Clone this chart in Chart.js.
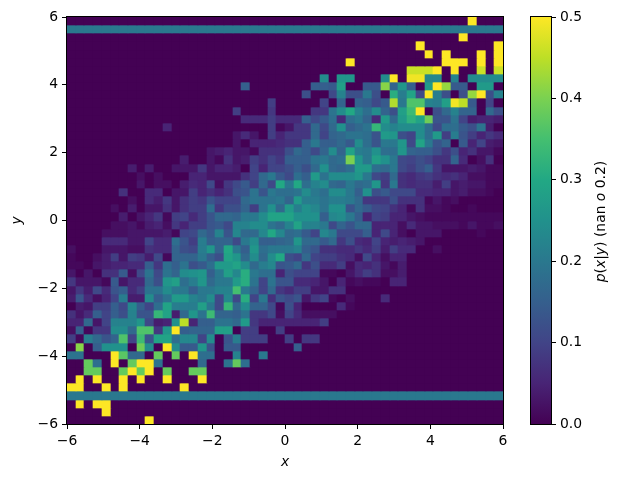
<!DOCTYPE html>
<html>
<head>
<meta charset="utf-8">
<script src="https://cdn.jsdelivr.net/npm/chart.js@4"></script>
<style>
  html, body { margin: 0; padding: 0; background: #fff; }
  #wrap { position: relative; width: 622px; height: 481px; }
  canvas { position: absolute; left: 0; top: 0; }
</style>
</head>
<body>
<div id="wrap">
  <canvas id="heatmap" width="622" height="481"></canvas>
  <canvas id="colorbar" width="622" height="481"></canvas>
</div>
<script>
// p(x|y) in hundredths, top row (y = 6) first
const row00 = [0,0,0,0,0,0,0,0,0,0, 0,0,0,0,0,0,0,0,0,0, 0,0,0,0,0,0,0,0,0,0, 0,0,0,0,0,0,0,0,0,0, 0,0,0,0,0,0,50,0,0,0];
const row01 = [20,20,20,20,20,20,20,20,20,20, 20,20,20,20,20,20,20,20,20,20, 20,20,20,20,20,20,20,20,20,20, 20,20,20,20,20,20,20,20,20,20, 20,20,20,20,20,20,20,20,20,20];
const row02 = [0,0,0,0,0,0,0,0,0,0, 0,0,0,0,0,0,0,0,0,0, 0,0,0,0,0,0,0,0,0,0, 0,0,0,0,0,0,0,0,0,0, 0,0,0,0,0,50,0,0,0,0];
const row03 = [0,0,0,0,0,0,0,0,0,0, 0,0,0,0,0,0,0,0,0,0, 0,0,0,0,0,0,0,0,0,0, 0,0,0,0,0,0,0,0,0,0, 50,0,0,0,0,0,0,0,0,50];
const row04 = [0,0,0,0,0,0,0,0,0,0, 0,0,0,0,0,0,0,0,0,0, 0,0,0,0,0,0,0,0,0,0, 0,0,0,0,0,0,0,0,0,0, 0,50,0,50,0,0,0,50,0,50];
const row05 = [0,0,0,0,0,0,0,0,0,0, 0,0,0,0,0,0,0,0,0,0, 0,0,0,0,0,0,0,0,0,0, 0,0,50,0,0,0,0,0,0,0, 0,0,0,50,50,50,0,50,0,50];
const row06 = [0,0,0,0,0,0,0,0,0,0, 0,0,0,0,0,0,0,0,0,0, 0,0,0,0,0,0,0,0,0,0, 0,0,0,0,0,0,0,0,0,46, 46,46,50,0,50,0,0,46,0,46];
const row07 = [0,0,0,0,0,0,0,0,0,0, 0,0,0,0,0,0,0,0,0,0, 0,0,0,0,0,0,0,0,0,24, 0,26,26,0,0,0,24,50,0,49, 49,23,23,0,22,0,24,24,24,24];
const row08 = [0,0,0,0,0,0,0,0,0,0, 0,0,0,0,0,0,0,0,0,0, 15,0,0,0,0,0,0,0,15,15, 14,28,0,0,14,14,41,16,26,15, 0,27,50,42,14,14,0,27,27,0];
const row09 = [0,0,0,0,0,0,0,0,0,0, 0,0,0,0,0,0,0,0,0,0, 0,0,0,0,0,0,0,12,0,0, 11,22,12,12,20,12,0,31,21,29, 11,50,21,12,0,12,42,50,12,22];
const row10 = [0,0,0,0,0,0,0,0,0,0, 0,0,0,0,0,0,0,0,0,0, 0,0,0,9,0,0,0,0,0,10, 0,16,0,16,15,11,14,44,20,36, 36,22,21,28,49,45,14,0,10,0];
const row11 = [0,0,0,0,0,0,0,0,0,0, 0,0,0,0,0,0,0,0,0,9, 0,0,0,8,0,0,0,0,8,8, 19,24,30,22,18,24,16,12,28,34, 50,0,12,17,22,16,16,0,17,12];
const row12 = [0,0,0,0,0,0,0,0,0,0, 0,0,0,0,0,0,0,0,0,0, 6,6,6,9,6,6,6,15,11,14, 18,6,18,20,16,6,27,17,27,32, 29,39,13,13,19,10,4,5,5,4];
const row13 = [0,0,0,0,0,0,0,0,0,0, 0,5,0,0,0,0,0,0,0,0, 0,0,0,9,1,3,8,8,17,11, 17,25,15,17,19,33,24,22,24,24, 24,18,11,18,18,14,12,19,4,0];
const row14 = [0,0,0,0,0,0,0,0,0,0, 0,0,0,0,0,0,0,0,0,3, 6,3,0,9,5,8,8,8,17,10, 16,17,19,19,18,13,27,26,12,10, 24,18,27,9,21,13,9,5,8,6];
const row15 = [0,0,0,0,0,0,0,0,0,0, 0,0,0,0,0,0,0,0,0,3, 0,5,5,5,6,7,7,15,20,15, 15,17,14,24,18,13,20,20,26,11, 29,20,13,16,0,14,5,10,4,3];
const row16 = [0,0,0,0,0,0,0,0,0,0, 0,0,0,0,0,0,3,4,5,3, 3,1,7,7,7,12,17,15,11,16, 24,16,29,21,20,25,18,18,26,16, 15,15,12,8,12,5,7,3,3,1];
const row17 = [0,0,0,0,0,0,0,0,0,0, 0,0,0,4,0,0,3,1,7,3, 4,9,7,10,8,15,15,15,19,20, 17,18,40,26,20,28,25,20,11,10, 12,10,7,7,16,6,0,2,7,0];
const row18 = [0,0,0,0,0,0,0,4,0,4, 0,0,3,3,3,8,3,5,5,4, 0,10,5,10,10,12,15,12,17,25, 17,16,18,27,27,18,17,20,11,9, 12,15,8,3,3,3,4,3,1,1];
const row19 = [0,0,0,0,0,0,0,0,2,0, 2,0,0,0,5,5,3,3,3,3, 7,10,17,20,14,11,18,15,27,19, 24,24,24,26,20,11,9,17,7,6, 8,9,7,6,7,5,2,2,1,1];
const row20 = [0,0,0,0,0,0,0,0,3,0, 2,2,0,4,6,5,11,2,8,11, 14,9,17,11,30,20,30,18,22,24, 17,16,20,17,18,26,8,20,7,6, 7,7,4,9,3,4,3,3,1,1];
const row21 = [0,0,0,0,0,0,7,0,0,6, 6,0,3,3,9,5,7,5,7,12, 13,19,13,20,18,18,19,24,20,18, 24,24,20,15,25,12,14,11,11,11, 6,6,5,5,3,4,2,2,1,0];
const row22 = [0,0,0,0,0,0,0,2,0,6, 4,8,3,7,9,8,13,10,10,10, 17,19,19,19,20,16,27,21,21,19, 21,21,20,17,8,8,8,12,7,7, 7,1,3,1,2,0,0,0,0,0];
const row23 = [0,0,0,0,0,2,0,4,0,3, 3,7,3,7,9,9,18,8,12,12, 16,9,19,25,17,27,21,25,23,19, 25,25,13,17,14,11,10,7,5,1, 7,2,2,1,0,0,1,0,0,0];
const row24 = [0,0,0,0,0,0,4,0,3,5, 8,1,9,10,6,9,13,17,17,16, 20,20,24,29,29,29,25,25,25,15, 23,24,20,15,5,10,9,5,5,3, 2,1,1,1,1,1,1,1,1,1];
const row25 = [0,0,0,0,0,2,2,3,1,4, 5,2,8,5,9,9,13,14,11,22, 22,24,24,19,17,22,29,22,22,20, 11,16,13,17,17,5,5,5,2,6, 3,3,2,2,2,1,3,1,1,2];
const row26 = [0,0,0,0,2,2,2,3,3,3, 3,4,1,10,11,17,14,22,13,23, 17,17,23,30,23,17,18,14,10,23, 20,11,11,11,15,5,11,5,2,0, 3,3,3,0,0,0,0,1,0,0];
const row27 = [0,0,0,0,6,6,6,3,3,10, 6,6,18,13,9,21,15,16,16,11, 20,24,15,15,16,17,26,17,17,14, 17,8,12,6,5,10,5,4,5,4, 3,0,0,0,0,0,0,0,0,0];
const row28 = [2,0,0,0,3,3,3,2,2,7, 6,6,16,12,11,21,26,16,30,20, 15,26,18,20,20,20,22,15,13,7, 7,6,6,8,6,9,4,9,6,6, 0,0,2,0,0,0,0,0,0,0];
const row29 = [1,0,0,2,4,9,3,9,8,4, 11,1,16,16,16,20,15,12,29,26, 17,24,17,24,30,12,10,17,10,9, 9,7,6,2,11,5,2,5,5,0, 0,0,0,0,0,0,0,0,0,0];
const row30 = [1,1,0,3,4,5,5,6,6,15, 8,18,15,19,12,14,18,27,27,29, 24,17,21,23,13,14,17,8,12,6, 6,9,2,6,5,7,3,1,4,0, 0,0,0,0,0,0,0,0,0,0];
const row31 = [3,0,3,0,7,7,14,2,11,19, 11,19,16,24,25,26,15,20,28,23, 31,20,18,18,5,12,10,10,10,1, 1,0,3,6,9,7,2,2,4,0, 0,0,0,0,0,0,0,0,0,0];
const row32 = [8,3,3,3,1,14,3,6,6,17, 12,26,28,18,21,26,17,20,20,27, 31,19,10,19,13,13,6,6,5,3, 0,5,1,2,1,1,0,5,5,0, 0,0,0,0,0,0,0,0,0,0];
const row33 = [3,8,4,11,6,13,15,6,9,19, 19,24,20,20,15,20,20,22,22,35, 20,16,10,17,8,6,9,9,3,3, 7,7,0,0,0,0,0,0,0,0, 0,0,0,0,0,0,0,0,0,0];
const row34 = [4,13,6,2,5,10,21,4,4,24, 15,19,27,27,22,20,24,11,23,11, 31,10,20,7,13,11,13,3,8,10, 1,0,2,0,0,0,6,0,0,0, 0,0,0,0,0,0,0,0,0,0];
const row35 = [0,4,3,9,9,15,11,23,15,10, 18,29,21,21,21,28,20,11,33,17, 24,16,16,11,1,12,5,0,0,0, 0,6,1,0,0,0,0,0,0,0, 0,0,0,0,0,0,0,0,0,0];
const row36 = [7,3,6,15,10,15,12,22,13,13, 33,29,4,17,26,19,34,16,16,15, 19,8,8,11,2,10,6,2,2,2, 2,0,0,0,0,0,0,0,0,0, 0,0,0,0,0,0,0,0,0,0];
const row37 = [5,5,17,3,10,22,22,22,26,11, 4,5,25,45,5,15,15,19,19,17, 27,8,5,5,5,5,5,5,5,9, 0,0,0,0,0,0,0,0,0,0, 0,0,0,0,0,0,0,0,0,0];
const row38 = [2,15,1,8,8,24,24,17,36,36, 8,26,50,15,16,16,16,28,28,0, 9,9,0,0,9,0,0,0,0,0, 0,0,0,0,0,0,0,0,0,0, 0,0,0,0,0,0,0,0,0,0];
const row39 = [9,1,21,17,13,16,36,10,34,13, 29,29,18,23,23,10,24,0,13,21, 9,9,9,0,0,9,0,8,8,0, 0,0,0,0,0,0,0,0,0,0, 0,0,0,0,0,0,0,0,0,0];
const row40 = [0,41,0,15,25,25,25,0,39,24, 0,50,24,14,14,26,13,0,14,14, 0,0,0,0,0,0,15,0,0,0, 0,0,0,0,0,0,0,0,0,0, 0,0,0,0,0,0,0,0,0,0];
const row41 = [19,19,0,0,0,50,37,17,17,0, 38,0,38,0,50,18,18,0,0,22, 0,0,20,0,0,0,0,0,0,0, 0,0,0,0,0,0,0,0,0,0, 0,0,0,0,0,0,0,0,0,0];
const row42 = [0,0,38,18,0,50,0,38,50,50, 19,0,0,0,0,17,0,0,19,38, 18,0,0,0,0,0,0,0,0,0, 0,0,0,0,0,0,0,0,0,0, 0,0,0,0,0,0,0,0,0,0];
const row43 = [0,0,38,38,0,0,38,50,38,50, 0,38,0,0,38,38,0,0,0,0, 0,0,0,0,0,0,0,0,0,0, 0,0,0,0,0,0,0,0,0,0, 0,0,0,0,0,0,0,0,0,0];
const row44 = [0,50,0,50,0,0,50,0,50,0, 0,50,0,0,0,50,0,0,0,0, 0,0,0,0,0,0,0,0,0,0, 0,0,0,0,0,0,0,0,0,0, 0,0,0,0,0,0,0,0,0,0];
const row45 = [50,50,0,0,50,0,50,0,0,0, 0,0,0,50,0,0,0,0,0,0, 0,0,0,0,0,0,0,0,0,0, 0,0,0,0,0,0,0,0,0,0, 0,0,0,0,0,0,0,0,0,0];
const row46 = [20,20,20,20,20,20,20,20,20,20, 20,20,20,20,20,20,20,20,20,20, 20,20,20,20,20,20,20,20,20,20, 20,20,20,20,20,20,20,20,20,20, 20,20,20,20,20,20,20,20,20,20];
const row47 = [0,50,0,50,50,0,0,0,0,0, 0,0,0,0,0,0,0,0,0,0, 0,0,0,0,0,0,0,0,0,0, 0,0,0,0,0,0,0,0,0,0, 0,0,0,0,0,0,0,0,0,0];
const row48 = [0,0,0,0,50,0,0,0,0,0, 0,0,0,0,0,0,0,0,0,0, 0,0,0,0,0,0,0,0,0,0, 0,0,0,0,0,0,0,0,0,0, 0,0,0,0,0,0,0,0,0,0];
const row49 = [0,0,0,0,0,0,0,0,0,50, 0,0,0,0,0,0,0,0,0,0, 0,0,0,0,0,0,0,0,0,0, 0,0,0,0,0,0,0,0,0,0, 0,0,0,0,0,0,0,0,0,0];

const rows = [row00,row01,row02,row03,row04,row05,row06,row07,row08,row09,
              row10,row11,row12,row13,row14,row15,row16,row17,row18,row19,
              row20,row21,row22,row23,row24,row25,row26,row27,row28,row29,
              row30,row31,row32,row33,row34,row35,row36,row37,row38,row39,
              row40,row41,row42,row43,row44,row45,row46,row47,row48,row49];

const axisTicks = [-6, -4, -2, 0, 2, 4, 6];
const colorbarTicks = [0, 0.1, 0.2, 0.3, 0.4, 0.5];
const colorbarLabel = [['p', true], ['(', false], ['x', true], ['|', false], ['y', true], [') (nan ', false], ['o', true], [' 0.2)', false]];

const viridis = ['#440154','#482475','#414487','#355f8d','#2a788e','#21918c','#22a884','#44bf70','#7ad151','#bddf26','#fde725'];
const fontFamily = '"DejaVu Sans", sans-serif';
const fontSize = 13.9;

// colormap lookup, v in 0..0.5
function colorFor(v) {
    const t = Math.min(Math.max(v / 0.5, 0), 1) * (viridis.length - 1);
    const i = Math.min(Math.floor(t), viridis.length - 2);
    const f = t - i;
    const a = parseInt(viridis[i].slice(1), 16);
    const b = parseInt(viridis[i + 1].slice(1), 16);
    const mix = s => Math.round(((a >> s) & 255) * (1 - f) + ((b >> s) & 255) * f);
    return `rgb(${mix(16)},${mix(8)},${mix(0)})`;
}

function minusLabel(v) {
    return v < 0 ? '\u2212' + Math.abs(v) : String(v);
}

const frame = {
    id: 'frame',
    afterDraw(chart) {
        const a = chart.chartArea, ctx = chart.ctx;
        ctx.save();
        ctx.strokeStyle = '#000';
        ctx.lineWidth = 1;
        ctx.strokeRect(Math.round(a.left) - 0.5, Math.round(a.top) - 0.5, Math.round(a.width) + 1, Math.round(a.height) + 1);
        ctx.restore();
    }
};

// one dataset of floating bars per row of the grid
const binWidth = 12 / rows.length;
const datasets = rows.map((row, r) => ({
    data: row.map((v, c) => ({
        x: -6 + (c + 0.5) * binWidth,
        y: [6 - (r + 1) * binWidth, 6 - r * binWidth]
    })),
    backgroundColor: row.map(v => colorFor(v / 100)),
    borderWidth: 0,
    barPercentage: 1,
    categoryPercentage: 1,
    grouped: false
}));

// snap the bars to whole pixels so neighbouring cells leave no seams
const snapCells = {
    id: 'snapCells',
    afterDatasetsUpdate(chart) {
        const xs = chart.scales.x, ys = chart.scales.y;
        chart.data.datasets.forEach((ds, i) => {
            chart.getDatasetMeta(i).data.forEach((el, j) => {
                const pt = ds.data[j];
                const left = Math.round(xs.getPixelForValue(pt.x - binWidth / 2));
                const right = Math.round(xs.getPixelForValue(pt.x + binWidth / 2));
                el.x = (left + right) / 2;
                el.width = right - left;
                el.y = Math.round(ys.getPixelForValue(pt.y[1]));
                el.base = Math.round(ys.getPixelForValue(pt.y[0]));
            });
        });
    }
};

function axisOptions(afterFit, titleText, titlePadding) {
    return {
        type: 'linear',
        min: -6,
        max: 6,
        offset: false,
        afterFit,
        afterBuildTicks: scale => { scale.ticks = axisTicks.map(value => ({ value })); },
        border: { display: false },
        grid: { drawOnChartArea: false, drawTicks: true, tickLength: 5, color: '#000', lineWidth: 1, offset: false },
        ticks: {
            autoSkip: false,
            maxRotation: 0,
            padding: 4,
            color: '#000',
            font: { family: fontFamily, size: fontSize },
            callback: minusLabel
        },
        title: {
            display: true,
            text: titleText,
            color: '#000',
            padding: titlePadding,
            font: { family: fontFamily, size: fontSize, style: 'italic' }
        }
    };
}

new Chart(document.getElementById('heatmap').getContext('2d'), {
    type: 'bar',
    data: { datasets },
    options: {
        responsive: false,
        animation: false,
        layout: { padding: { left: 0, top: 17, right: 119, bottom: 0 } },
        plugins: { legend: { display: false }, tooltip: { enabled: false } },
        scales: {
            x: axisOptions(scale => { scale.height = 57; }, 'x', { top: 4, bottom: 10 }),
            y: axisOptions(scale => { scale.width = 67; }, 'y', { top: 9, bottom: 4 })
        }
    },
    plugins: [snapCells, frame]
});

const colorbarSnap = {
    id: 'colorbarSnap',
    afterDatasetsUpdate(chart) {
        const el = chart.getDatasetMeta(0).data[0], a = chart.chartArea;
        el.x = (a.left + a.right) / 2;
        el.width = a.right - a.left;
        el.y = Math.round(a.top);
        el.base = Math.round(a.bottom);
    }
};

const colorbarTitle = {
    id: 'colorbarTitle',
    afterDraw(chart) {
        const ctx = chart.ctx;
        const fontOf = italic => `${italic ? 'italic ' : ''}${fontSize}px ${fontFamily}`;
        let total = 0;
        colorbarLabel.forEach(([text, italic]) => { ctx.font = fontOf(italic); total += ctx.measureText(text).width; });
        ctx.save();
        ctx.translate(600, (chart.chartArea.top + chart.chartArea.bottom) / 2 + 1);
        ctx.rotate(-Math.PI / 2);
        ctx.fillStyle = '#000';
        ctx.textBaseline = 'alphabetic';
        let x = -total / 2;
        colorbarLabel.forEach(([text, italic]) => {
            ctx.font = fontOf(italic);
            ctx.fillText(text, x, 5);
            x += ctx.measureText(text).width;
        });
        ctx.restore();
    }
};

new Chart(document.getElementById('colorbar').getContext('2d'), {
    type: 'bar',
    data: {
        labels: [''],
        datasets: [{
            data: [[0, 0.5]],
            borderWidth: 0,
            barPercentage: 1,
            categoryPercentage: 1,
            backgroundColor(context) {
                const chart = context.chart;
                if (!chart.chartArea) return viridis[0];
                const g = chart.ctx.createLinearGradient(0, chart.scales.y.getPixelForValue(0), 0, chart.scales.y.getPixelForValue(0.5));
                viridis.forEach((c, i) => g.addColorStop(i / (viridis.length - 1), c));
                return g;
            }
        }]
    },
    options: {
        responsive: false,
        animation: false,
        layout: { padding: { left: 531, top: 17, right: 0, bottom: 57 } },
        plugins: { legend: { display: false }, tooltip: { enabled: false } },
        scales: {
            x: { display: false },
            y: {
                position: 'right',
                min: 0,
                max: 0.5,
                afterFit: scale => { scale.width = 71; },
                afterBuildTicks: scale => { scale.ticks = colorbarTicks.map(value => ({ value })); },
                border: { display: false },
                grid: { drawOnChartArea: false, drawTicks: true, tickLength: 5, color: '#000', lineWidth: 1 },
                ticks: {
                    padding: 4,
                    color: '#000',
                    font: { family: fontFamily, size: fontSize },
                    callback: v => v.toFixed(1)
                }
            }
        }
    },
    plugins: [colorbarSnap, frame, colorbarTitle]
});
</script>
</body>
</html>
